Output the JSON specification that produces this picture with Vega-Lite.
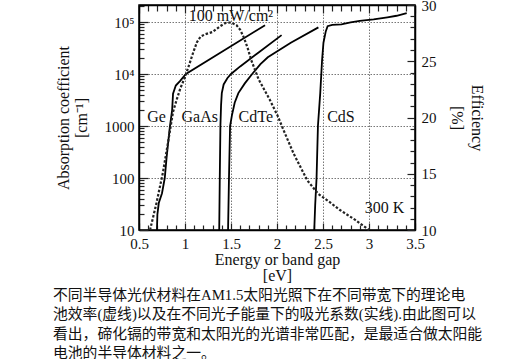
{
  "$schema": "https://vega.github.io/schema/vega-lite/v6.json",
  "width": 276,
  "height": 225,
  "autosize": {"type": "none"},
  "padding": {"left": 139, "top": 5, "right": 98, "bottom": 129},
  "background": "white",
  "config": {
    "view": {"stroke": "black", "strokeWidth": 1.5},
    "font": "Liberation Serif",
    "axis": {
      "labelFont": "Liberation Serif", "titleFont": "Liberation Serif",
      "labelFontSize": 15, "titleFontSize": 16, "titleFontWeight": "normal",
      "labelColor": "#111", "titleColor": "#111",
      "labelFlush": false, "labelOverlap": false,
      "domainColor": "black", "domainWidth": 1.5,
      "tickColor": "#222", "tickWidth": 1.2,
      "gridColor": "#777", "gridWidth": 1
    }
  },
  "title": {
    "text": [
      "\u2002不同半导体光伏材料在AM1.5太阳光照下在不同带宽下的理论电",
      "池效率(虚线)以及在不同光子能量下的吸光系数(实线).由此图可以",
      "看出，碲化镉的带宽和太阳光的光谱非常匹配，是最适合做太阳能",
      "电池的半导体材料之一。"
    ],
    "orient": "bottom", "anchor": "start", "frame": "group",
    "dx": -86, "offset": 5,
    "font": "Liberation Serif, Noto Sans CJK SC",
    "fontSize": 14.8, "fontWeight": "normal", "lineHeight": 19.4, "color": "#111"
  },
  "datasets": {
    "absorption": [
      {"material": "Ge", "E": 0.695, "a": 10},
      {"material": "Ge", "E": 0.70, "a": 20},
      {"material": "Ge", "E": 0.715, "a": 33},
      {"material": "Ge", "E": 0.75, "a": 51},
      {"material": "Ge", "E": 0.78, "a": 100},
      {"material": "Ge", "E": 0.80, "a": 250},
      {"material": "Ge", "E": 0.835, "a": 950},
      {"material": "Ge", "E": 0.86, "a": 2000},
      {"material": "Ge", "E": 0.87, "a": 4200},
      {"material": "Ge", "E": 0.90, "a": 6000},
      {"material": "Ge", "E": 0.945, "a": 7300},
      {"material": "Ge", "E": 1.01, "a": 10000},
      {"material": "Ge", "E": 1.87, "a": 87000},
      {"material": "GaAs", "E": 1.372, "a": 10},
      {"material": "GaAs", "E": 1.378, "a": 100},
      {"material": "GaAs", "E": 1.385, "a": 1000},
      {"material": "GaAs", "E": 1.392, "a": 2500},
      {"material": "GaAs", "E": 1.40, "a": 4300},
      {"material": "GaAs", "E": 1.42, "a": 6300},
      {"material": "GaAs", "E": 1.46, "a": 8300},
      {"material": "GaAs", "E": 1.50, "a": 10000},
      {"material": "GaAs", "E": 1.60, "a": 14000},
      {"material": "GaAs", "E": 1.80, "a": 26000},
      {"material": "GaAs", "E": 2.05, "a": 56000},
      {"material": "CdTe", "E": 1.468, "a": 10},
      {"material": "CdTe", "E": 1.478, "a": 100},
      {"material": "CdTe", "E": 1.49, "a": 1000},
      {"material": "CdTe", "E": 1.51, "a": 1600},
      {"material": "CdTe", "E": 1.54, "a": 2800},
      {"material": "CdTe", "E": 1.58, "a": 4300},
      {"material": "CdTe", "E": 1.65, "a": 6600},
      {"material": "CdTe", "E": 1.73, "a": 10000},
      {"material": "CdTe", "E": 1.82, "a": 15500},
      {"material": "CdTe", "E": 1.90, "a": 21000},
      {"material": "CdTe", "E": 2.15, "a": 40000},
      {"material": "CdTe", "E": 2.45, "a": 79000},
      {"material": "CdS", "E": 2.405, "a": 10},
      {"material": "CdS", "E": 2.415, "a": 30},
      {"material": "CdS", "E": 2.43, "a": 100},
      {"material": "CdS", "E": 2.445, "a": 1000},
      {"material": "CdS", "E": 2.47, "a": 4300},
      {"material": "CdS", "E": 2.49, "a": 18600},
      {"material": "CdS", "E": 2.505, "a": 40000},
      {"material": "CdS", "E": 2.53, "a": 66000},
      {"material": "CdS", "E": 2.55, "a": 83000},
      {"material": "CdS", "E": 2.60, "a": 88000},
      {"material": "CdS", "E": 2.70, "a": 90000},
      {"material": "CdS", "E": 2.80, "a": 98000},
      {"material": "CdS", "E": 2.90, "a": 105000},
      {"material": "CdS", "E": 3.05, "a": 112000},
      {"material": "CdS", "E": 3.20, "a": 123000},
      {"material": "CdS", "E": 3.30, "a": 132000},
      {"material": "CdS", "E": 3.41, "a": 148000}
    ],
    "efficiency": [
      {"E": 0.62, "eff": 10},
      {"E": 0.69, "eff": 12.4},
      {"E": 0.76, "eff": 15.1},
      {"E": 0.82, "eff": 18},
      {"E": 0.87, "eff": 20.5},
      {"E": 0.91, "eff": 21.6},
      {"E": 0.95, "eff": 22.6},
      {"E": 1.0, "eff": 23.6},
      {"E": 1.05, "eff": 24.8},
      {"E": 1.09, "eff": 25.8},
      {"E": 1.13, "eff": 26.7},
      {"E": 1.17, "eff": 27.2},
      {"E": 1.22, "eff": 27.4},
      {"E": 1.30, "eff": 27.6},
      {"E": 1.38, "eff": 28.1},
      {"E": 1.44, "eff": 28.4},
      {"E": 1.50, "eff": 28.45},
      {"E": 1.56, "eff": 28.2},
      {"E": 1.60, "eff": 27.8},
      {"E": 1.64, "eff": 27.1},
      {"E": 1.68, "eff": 26.2},
      {"E": 1.72, "eff": 25.1},
      {"E": 1.80, "eff": 23.4},
      {"E": 1.92, "eff": 21.6},
      {"E": 2.01, "eff": 20.1},
      {"E": 2.07, "eff": 18.9},
      {"E": 2.18, "eff": 16.8},
      {"E": 2.33, "eff": 14.4},
      {"E": 2.45, "eff": 13.2},
      {"E": 2.57, "eff": 12.5},
      {"E": 2.68, "eff": 11.8},
      {"E": 2.85, "eff": 10.9},
      {"E": 3.0, "eff": 10}
    ],
    "labels": [
      {"label": "Ge", "E": 0.69, "a": 1510},
      {"label": "GaAs", "E": 1.16, "a": 1510},
      {"label": "CdTe", "E": 1.77, "a": 1510},
      {"label": "CdS", "E": 2.695, "a": 1510},
      {"label": "300 K", "E": 3.17, "a": 26.5},
      {"label": "100 mW/cm²", "E": 1.5, "a": 130000}
    ]
  },
  "layer": [
    {
      "data": {"name": "absorption"},
      "mark": {"type": "line", "strokeOpacity": 0},
      "encoding": {
        "x": {
          "field": "E", "type": "quantitative",
          "scale": {"domain": [0.5, 3.5], "nice": false, "zero": false},
          "axis": {"orient": "bottom", "values": [1, 1.5, 2, 2.5, 3], "grid": true, "gridDash": [1.5, 1.5], "ticks": false, "labels": false, "domain": false, "title": null}
        },
        "y": {
          "field": "a", "type": "quantitative",
          "scale": {"type": "log", "domain": [10, 212500], "nice": false},
          "axis": {"orient": "left", "values": [100, 1000, 10000, 100000], "grid": true, "gridDash": [1.5, 1.5], "ticks": false, "labels": false, "domain": false, "title": null}
        },
        "detail": {"field": "material"}
      }
    },
    {
      "data": {"name": "absorption"},
      "mark": {"type": "line", "strokeOpacity": 0},
      "encoding": {
        "x": {
          "field": "E", "type": "quantitative",
          "scale": {"domain": [0.5, 3.5], "nice": false, "zero": false},
          "axis": {"orient": "bottom", "values": [0.6,0.7,0.8,0.9,1.1,1.2,1.3,1.4,1.6,1.7,1.8,1.9,2.1,2.2,2.3,2.4,2.6,2.7,2.8,2.9,3.1,3.2,3.3,3.4], "grid": false, "ticks": true, "tickSize": -5, "labels": false, "domain": false, "title": null}
        },
        "y": {
          "field": "a", "type": "quantitative",
          "scale": {"type": "log", "domain": [10, 212500], "nice": false},
          "axis": {"orient": "left", "values": [20,30,40,50,60,70,80,90,200,300,400,500,600,700,800,900,2000,3000,4000,5000,6000,7000,8000,9000,20000,30000,40000,50000,60000,70000,80000,90000,200000], "grid": false, "ticks": true, "tickSize": -5, "labels": false, "domain": false, "title": null}
        },
        "detail": {"field": "material"}
      }
    },
    {
      "data": {"name": "efficiency"},
      "mark": {"type": "line", "strokeOpacity": 0},
      "encoding": {
        "x": {
          "field": "E", "type": "quantitative",
          "scale": {"domain": [0.5, 3.5], "nice": false, "zero": false},
          "axis": {"orient": "top", "values": [0.6,0.7,0.8,0.9,1.1,1.2,1.3,1.4,1.6,1.7,1.8,1.9,2.1,2.2,2.3,2.4,2.6,2.7,2.8,2.9,3.1,3.2,3.3,3.4], "grid": false, "ticks": true, "tickSize": -6, "labels": false, "domain": false, "title": null}
        },
        "y": {
          "field": "eff", "type": "quantitative",
          "scale": {"domain": [10, 30], "nice": false, "zero": false},
          "axis": {"orient": "right", "values": [11,12,13,14,16,17,18,19,21,22,23,24,26,27,28,29], "grid": false, "ticks": true, "tickSize": -5, "labels": false, "domain": false, "title": null}
        }
      }
    },
    {
      "layer": [
        {
          "data": {"name": "absorption"},
          "mark": {"type": "line", "color": "black", "strokeWidth": 1.8},
          "encoding": {
            "x": {
              "field": "E", "type": "quantitative",
              "scale": {"domain": [0.5, 3.5], "nice": false, "zero": false},
              "axis": {
                "orient": "bottom",
                "values": [0.5, 1, 1.5, 2, 2.5, 3, 3.5],
                "format": "~g",
                "ticks": true,
                "tickSize": -7,
                "labelPadding": 13,
                "labelOverlap": false,
                "grid": false,
                "title": ["Energy or band gap", "[eV]"],
                "titlePadding": 0,
                "titleLineHeight": 16
              }
            },
            "y": {
              "field": "a", "type": "quantitative",
              "scale": {"type": "log", "domain": [10, 212500], "nice": false},
              "axis": {
                "orient": "left",
                "values": [10, 100, 1000, 10000, 100000],
                "labelExpr": "datum.value==100000 ? '10⁵' : datum.value==10000 ? '10⁴' : datum.value==1000 ? '1000' : datum.value==100 ? '100' : '10'",
                "ticks": true,
                "tickSize": -9,
                "labelPadding": 14,
                "labelOverlap": false,
                "grid": false,
                "title": ["Absorption coefficient", "[cm⁻¹]"],
                "titlePadding": 15,
                "titleLineHeight": 18
              }
            },
            "detail": {"field": "material"},
            "order": {"field": "a"}
          }
        },
        {
          "data": {"name": "labels"},
          "mark": {"type": "text", "font": "Liberation Serif", "fontSize": 16, "color": "#111", "align": "center", "baseline": "middle"},
          "encoding": {
            "x": {"field": "E", "type": "quantitative"},
            "y": {"field": "a", "type": "quantitative"},
            "text": {"field": "label"}
          }
        }
      ]
    },
    {
      "data": {"name": "efficiency"},
      "mark": {"type": "line", "color": "#222", "strokeWidth": 2.2, "strokeDash": [2.5, 1.8]},
      "encoding": {
        "x": {
          "field": "E", "type": "quantitative",
          "scale": {"domain": [0.5, 3.5], "nice": false, "zero": false},
          "axis": {
            "orient": "top",
            "values": [0.5, 1, 1.5, 2, 2.5, 3, 3.5],
            "labels": false,
            "grid": false,
            "ticks": true,
            "tickSize": -8,
            "title": null
          }
        },
        "y": {
          "field": "eff", "type": "quantitative",
          "scale": {"domain": [10, 30], "nice": false, "zero": false},
          "axis": {
            "orient": "right",
            "values": [10, 15, 20, 25, 30],
            "ticks": true,
            "tickSize": -8,
            "labelPadding": 14,
            "labelOverlap": false,
            "grid": false,
            "title": ["Efficiency", "[%]"],
            "titlePadding": 12,
            "titleLineHeight": 20
          }
        }
      }
    }
  ],
  "resolve": {"scale": {"y": "independent"}, "axis": {"y": "independent", "x": "independent"}}
}
